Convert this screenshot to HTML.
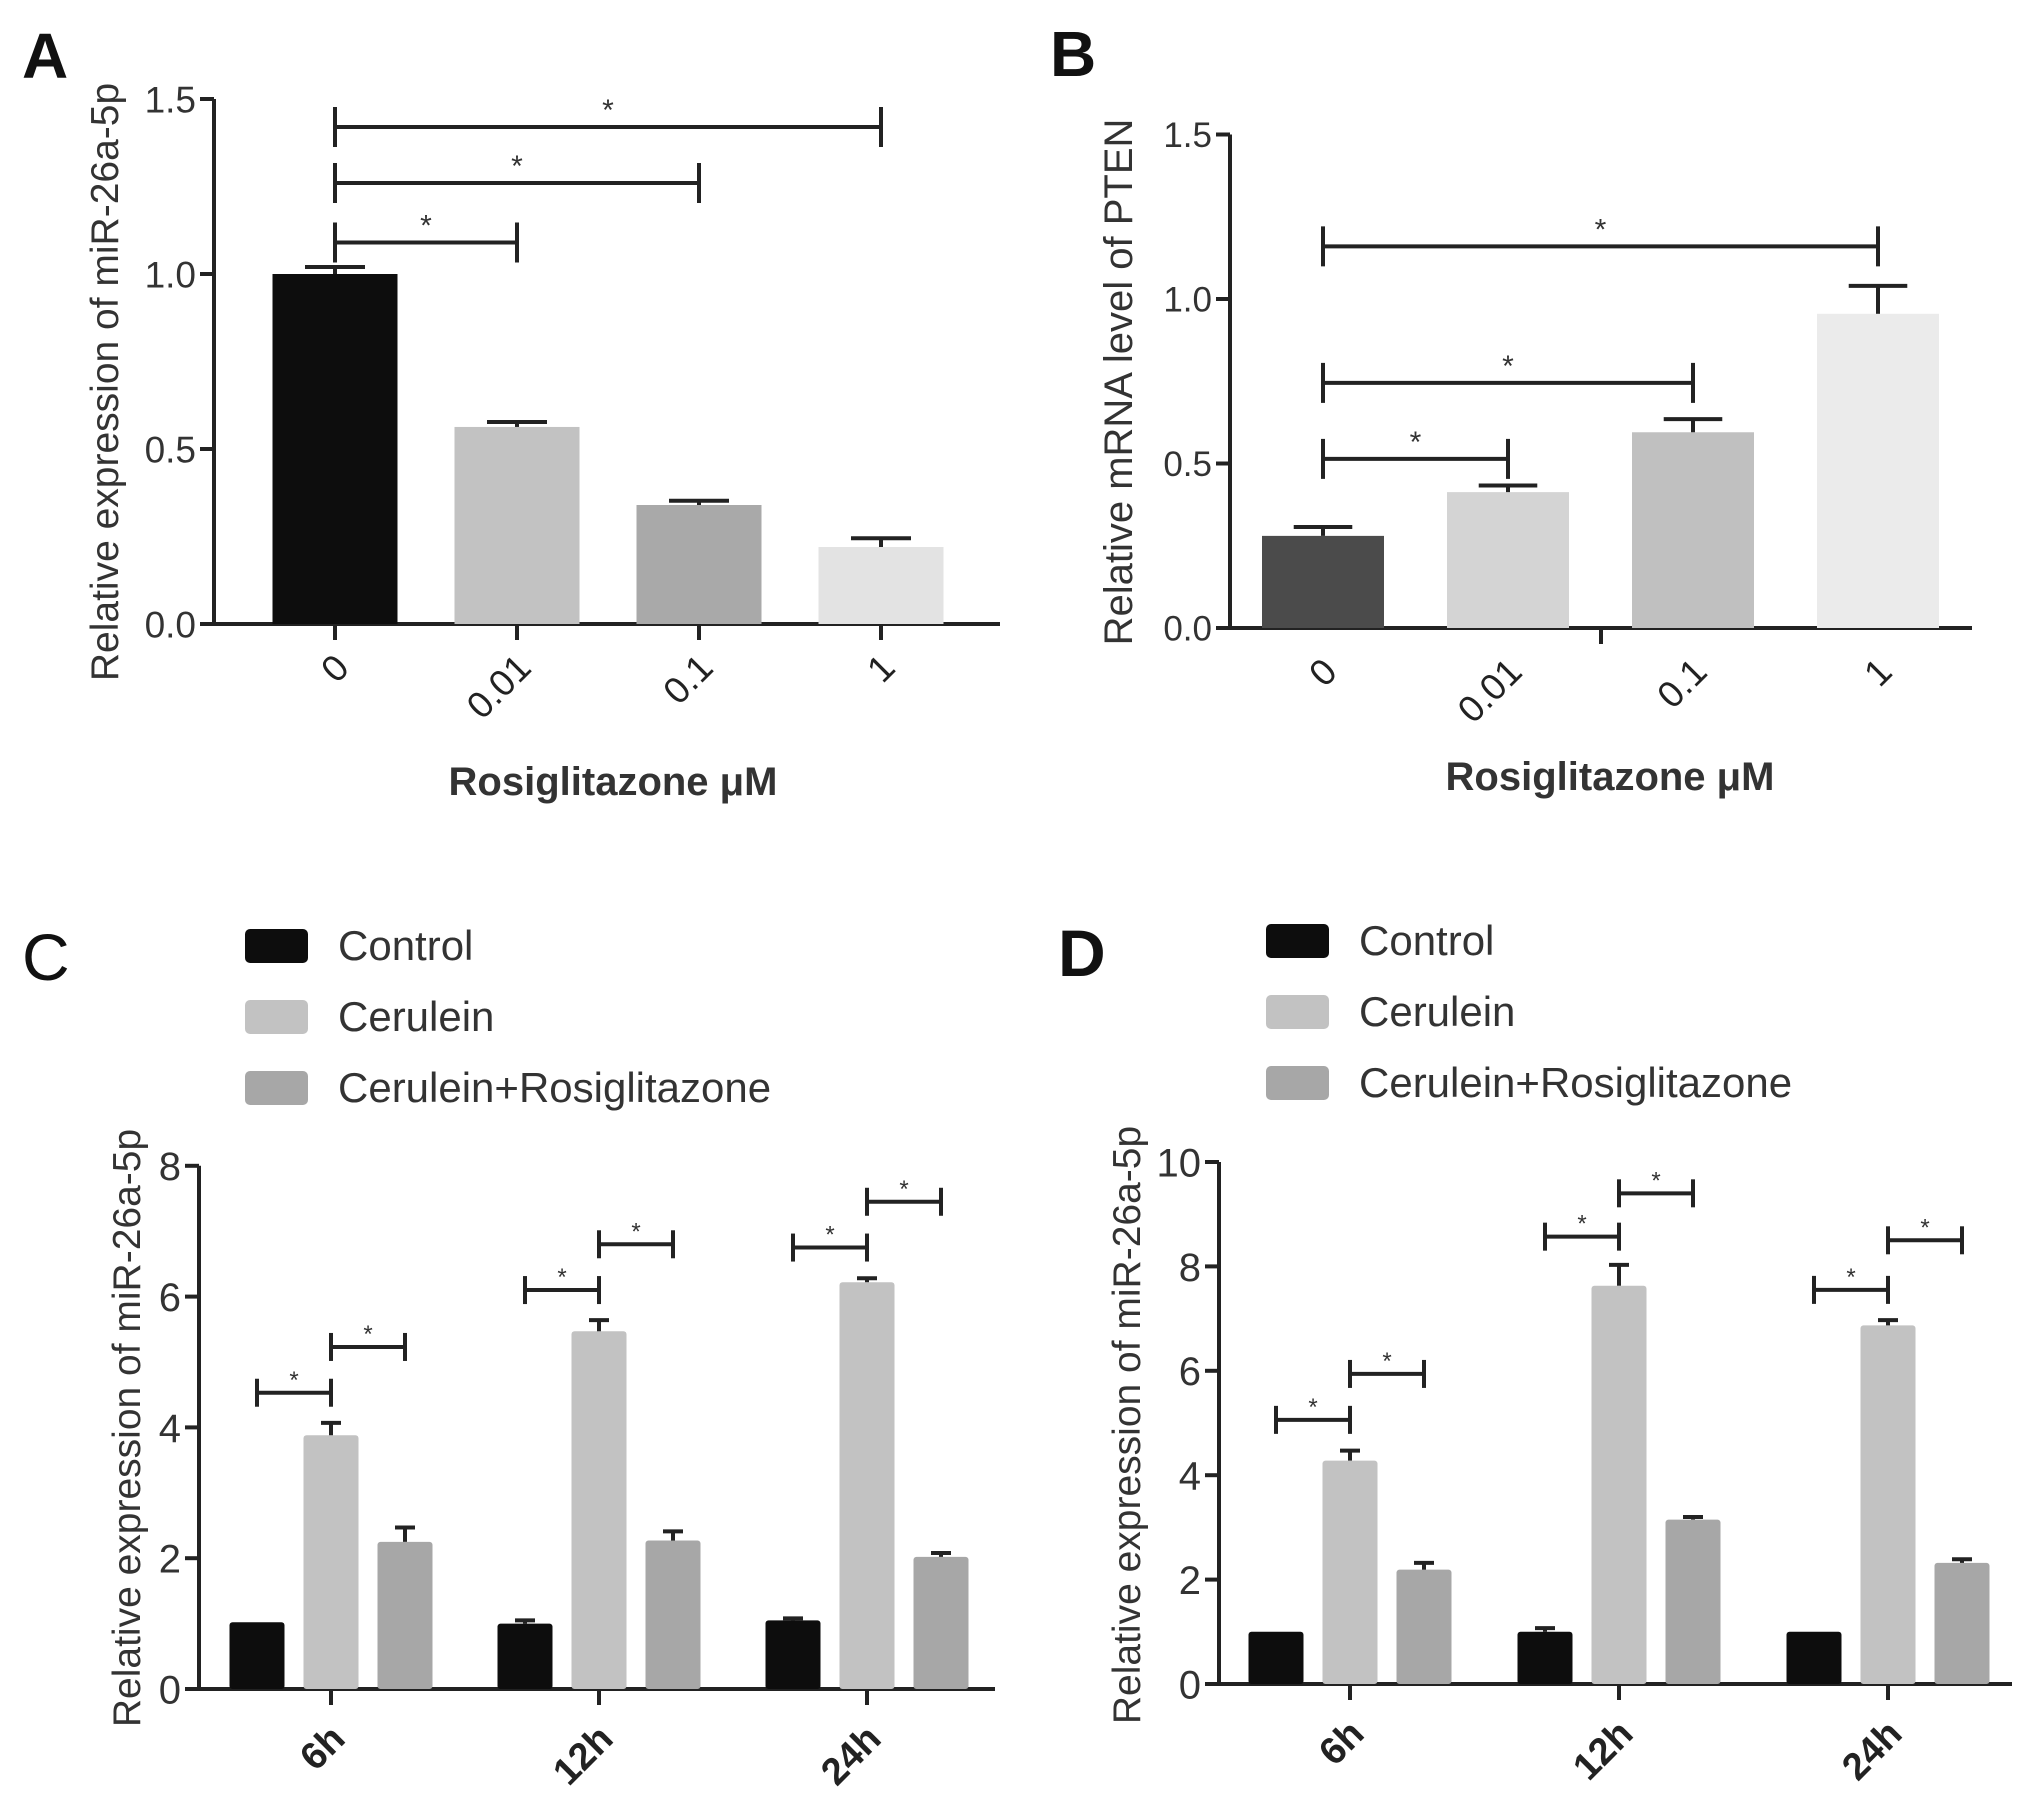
<!DOCTYPE html>
<html><head><meta charset="utf-8">
<style>
html,body{margin:0;padding:0;background:#fff;}
svg{display:block;font-family:"Liberation Sans",Arial,sans-serif;}
</style></head>
<body>
<svg id="fig" width="2031" height="1800" viewBox="0 0 2031 1800" xmlns="http://www.w3.org/2000/svg">
<g id="root"></g>
</svg>
<script>
// ---- Panel A data ----
const aCategories = ["0", "0.01", "0.1", "1"];
const aValues = [1.0, 0.563, 0.34, 0.22];
const aErrors = [0.02, 0.014, 0.012, 0.025];
const aTicks = [0.0, 0.5, 1.0, 1.5];
const aTickLabels = ["0.0", "0.5", "1.0", "1.5"];
const aBrackets = [[0, 1, 1.09], [0, 2, 1.26], [0, 3, 1.42]];
// ---- Panel B data ----
const bCategories = ["0", "0.01", "0.1", "1"];
const bValues = [0.28, 0.413, 0.595, 0.955];
const bErrors = [0.027, 0.02, 0.04, 0.085];
const bTicks = [0.0, 0.5, 1.0, 1.5];
const bTickLabels = ["0.0", "0.5", "1.0", "1.5"];
const bBrackets = [[0, 1, 0.514], [0, 2, 0.745], [0, 3, 1.16]];
// ---- Panel C data ----
const cGroups = ["6h", "12h", "24h"];
const cControl = [1.02, 1.0, 1.05];
const cCerulein = [3.88, 5.47, 6.22];
const cCombo = [2.25, 2.27, 2.02];
const cControlErr = [0.0, 0.05, 0.03];
const cCeruleinErr = [0.19, 0.17, 0.06];
const cComboErr = [0.22, 0.14, 0.06];
const cTicks = [0, 2, 4, 6, 8];
const cBracketLow = [4.53, 6.1, 6.75];
const cBracketHigh = [5.23, 6.8, 7.45];
// ---- Panel D data ----
const dGroups = ["6h", "12h", "24h"];
const dControl = [1.0, 1.0, 1.0];
const dCerulein = [4.28, 7.63, 6.87];
const dCombo = [2.19, 3.15, 2.32];
const dControlErr = [0.0, 0.07, 0.0];
const dCeruleinErr = [0.19, 0.4, 0.1];
const dComboErr = [0.13, 0.05, 0.07];
const dTicks = [0, 2, 4, 6, 8, 10];
const dBracketLow = [5.06, 8.57, 7.55];
const dBracketHigh = [5.94, 9.4, 8.5];
const legendLabels = ["Control", "Cerulein", "Cerulein+Rosiglitazone"];

const NS = "http://www.w3.org/2000/svg";
const root = document.getElementById("root");
function mk(tag, attrs, parent, text) {
  const e = document.createElementNS(NS, tag);
  for (const k in attrs) e.setAttribute(k, attrs[k]);
  if (text !== undefined) e.textContent = text;
  (parent || root).appendChild(e);
  return e;
}
function line(x1, y1, x2, y2, w, c, g) {
  return mk("line", {x1, y1, x2, y2, stroke: c || "#222", "stroke-width": w || 4}, g);
}

function drawAxes(g, ax, y0, xEnd, ticks, labels, yScale, tickFs) {
  const yl = line(ax, y0, ax, yScale(ticks[ticks.length - 1]), 4, "#222", g);
  
  
  const xl = line(ax - 14, y0, xEnd, y0, 4, "#222", g);
  
  
  ticks.forEach((t, i) => {
    const y = yScale(t);
    const tk = line(ax - 14, y, ax, y, 4, "#222", g);
    
    
    const tl = mk("text", {x: ax - 18, y: y + tickFs * 0.36, "text-anchor": "end", "font-size": tickFs, fill: "#333"}, g, labels[i]);
    
    
  });
}
function errBar(g, cx, top, errTop, capW, w) {
  const s = line(cx, top, cx, errTop, w, "#222", g);
  
  
  const c = line(cx - capW / 2, errTop, cx + capW / 2, errTop, w, "#222", g);
  
  
}
function bracket(g, x1, x2, y, h, fs) {
  const b = mk("g", {}, g);
  
  
  line(x1, y, x2, y, 4, "#222", b);
  line(x1, y - h, x1, y + h, 4, "#222", b);
  line(x2, y - h, x2, y + h, 4, "#222", b);
  mk("text", {x: (x1 + x2) / 2, y: y - h * 0.35, "text-anchor": "middle", "font-size": fs, fill: "#333"}, b, "*");
}
function rotLabel(g, x, y, txt, fs, bold) {
  const t = mk("text", {x, y, "text-anchor": "end", "font-size": fs, fill: "#222", "font-weight": bold ? "bold" : "normal", transform: `rotate(-45 ${x} ${y})`}, g, txt);
  
  
}
function yTitle(g, x, y, txt, fs) {
  const t = mk("text", {x, y, "text-anchor": "middle", "font-size": fs, fill: "#333", transform: `rotate(-90 ${x} ${y})`}, g, txt);
  
  
}

// ===== Simple panels A/B =====
function simplePanel(cfg) {
  const g = mk("g", {});
  
  
  const yS = v => cfg.y0 - v * cfg.unit;
  const xS = i => cfg.x0 + i * cfg.step;
  drawAxes(g, cfg.ax, cfg.y0, cfg.xEnd, cfg.ticks, cfg.tickLabels, yS, cfg.tfs);
  cfg.values.forEach((v, i) => {
    const r = mk("rect", {x: xS(i) - cfg.bw / 2, y: yS(v), width: cfg.bw, height: cfg.y0 - yS(v), fill: cfg.colors[i]}, g);
    
    
    errBar(g, xS(i), yS(v), yS(v + cfg.errors[i]), cfg.bw * 0.48, 4);
    if (cfg.catTicks) {
      const tk = line(xS(i), cfg.y0, xS(i), cfg.y0 + 16, 4, "#222", g);
      
      
    }
    rotLabel(g, xS(i) + 16, cfg.y0 + 46, cfg.cats[i], 37, false);
  });
  if (!cfg.catTicks) {
    const tk = line(cfg.oddTick, cfg.y0, cfg.oddTick, cfg.y0 + 16, 4, "#222", g);
    
    
  }
  cfg.brackets.forEach(b => bracket(g, xS(b[0]), xS(b[1]), yS(b[2]), 20, 30));
  yTitle(g, cfg.ytx, cfg.yty, cfg.ytitle, cfg.ytfs);
  const xt = mk("text", {x: cfg.xtx, y: cfg.xty, "text-anchor": "middle", "font-size": 40, "font-weight": "bold", fill: "#333"}, g, "Rosiglitazone  μM");
  
  
  const pl = mk("text", {x: cfg.lx, y: cfg.ly, "font-size": 64, "font-weight": "bold", fill: "#111"}, g, cfg.letter);
  
  
}
simplePanel({name: "panel-a", letter: "A", lx: 22, ly: 78, ax: 214, y0: 624, unit: 350, x0: 335, step: 182, bw: 125, xEnd: 1000, tfs: 37,
  ticks: aTicks, tickLabels: aTickLabels, values: aValues, errors: aErrors, cats: aCategories, brackets: aBrackets,
  colors: ["#0d0d0d", "#c2c2c2", "#a9a9a9", "#e3e3e3"], catTicks: true,
  ytx: 118, yty: 382, ytfs: 39, ytitle: "Relative expression of miR-26a-5p", xtx: 613, xty: 795});
simplePanel({name: "panel-b", letter: "B", lx: 1050, ly: 76, ax: 1230, y0: 628, unit: 329, x0: 1323, step: 185, bw: 122, xEnd: 1972, tfs: 35,
  ticks: bTicks, tickLabels: bTickLabels, values: bValues, errors: bErrors, cats: bCategories, brackets: bBrackets,
  colors: ["#4b4b4b", "#d4d4d4", "#c0c0c0", "#ebebeb"], catTicks: false, oddTick: 1601,
  ytx: 1132, yty: 382, ytfs: 40, ytitle: "Relative mRNA level of PTEN", xtx: 1610, xty: 790});

// ===== Grouped panels C/D =====
function groupPanel(cfg) {
  const g = mk("g", {});
  
  
  const yS = v => cfg.y0 - v * cfg.unit;
  const xS = i => cfg.x0 + i * cfg.step;
  drawAxes(g, cfg.ax, cfg.y0, cfg.xEnd, cfg.ticks, cfg.ticks.map(String), yS, 40);
  const colors = ["#0d0d0d", "#c2c2c2", "#a7a7a7"];
  const series = [cfg.s0, cfg.s1, cfg.s2];
  const errs = [cfg.e0, cfg.e1, cfg.e2];
  const off = [-74, 0, 74];
  const bw = 55;
  cfg.groups.forEach((grp, i) => {
    series.forEach((s, k) => {
      const cx = xS(i) + off[k];
      const r = mk("rect", {x: cx - bw / 2, y: yS(s[i]), width: bw, height: cfg.y0 - yS(s[i]), fill: colors[k], rx: 3}, g);
      
      
      if (errs[k][i] > 0) errBar(g, cx, yS(s[i]), yS(s[i] + errs[k][i]), 20, 4);
    });
    const tk = line(xS(i), cfg.y0, xS(i), cfg.y0 + 16, 4, "#222", g);
    
    
    rotLabel(g, xS(i) + 16, cfg.y0 + 52, grp, 38, true);
    bracket(g, xS(i) + off[0], xS(i), yS(cfg.bl[i]), 14, 24);
    bracket(g, xS(i), xS(i) + off[2], yS(cfg.bh[i]), 14, 24);
  });
  yTitle(g, cfg.ytx, cfg.yty, "Relative expression of miR-26a-5p", 39);
  const pl = mk("text", {x: cfg.lx, y: cfg.ly, "font-size": 66, "font-weight": cfg.bold ? "bold" : "normal", fill: "#111"}, g, cfg.letter);
  
  
  const lg = mk("g", {}, g);
  
  
  legendLabels.forEach((lab, k) => {
    const y = cfg.legY + k * 71;
    const e = mk("g", {}, lg);
    
    
    mk("rect", {x: cfg.legX, y: y, width: 63, height: 34, rx: 5, fill: colors[k]}, e);
    mk("text", {x: cfg.legX + 93, y: y + 31, "font-size": 42, fill: "#333"}, e, lab);
  });
}
groupPanel({name: "panel-c", letter: "C", lx: 22, ly: 980, bold: false, ax: 199, y0: 1689, unit: 65.4, x0: 331, step: 268, xEnd: 995,
  ticks: cTicks, groups: cGroups, s0: cControl, s1: cCerulein, s2: cCombo, e0: cControlErr, e1: cCeruleinErr, e2: cComboErr,
  bl: cBracketLow, bh: cBracketHigh, ytx: 140, yty: 1428, legX: 245, legY: 929});
groupPanel({name: "panel-d", letter: "D", lx: 1058, ly: 976, bold: true, ax: 1219, y0: 1684, unit: 52.2, x0: 1350, step: 269, xEnd: 2012,
  ticks: dTicks, groups: dGroups, s0: dControl, s1: dCerulein, s2: dCombo, e0: dControlErr, e1: dCeruleinErr, e2: dComboErr,
  bl: dBracketLow, bh: dBracketHigh, ytx: 1140, yty: 1425, legX: 1266, legY: 924});
</script>
</body></html>
